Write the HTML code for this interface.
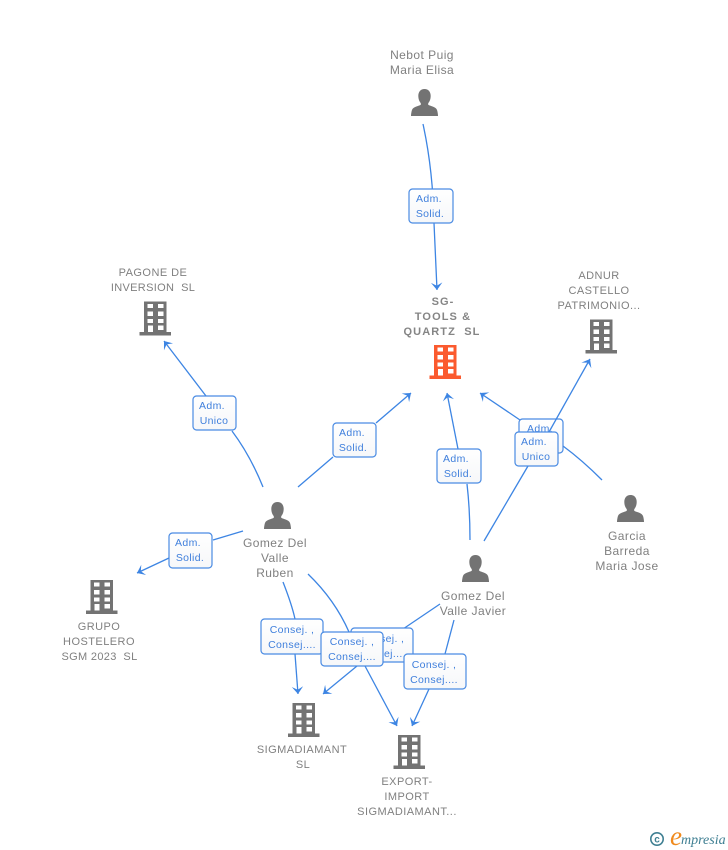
<!DOCTYPE html>
<html><head><meta charset="utf-8"><style>
html,body{margin:0;padding:0;background:#fff;width:728px;height:850px;overflow:hidden}
svg{display:block}
.n{font:12px "Liberation Sans",sans-serif;fill:#808080;text-anchor:middle;letter-spacing:.45px}
.c{font:11px "Liberation Sans",sans-serif;fill:#808080;text-anchor:middle;letter-spacing:.45px;white-space:pre}
.d{letter-spacing:.33px}
.s{font-weight:bold;font-size:11px;letter-spacing:1.1px;fill:#858585}
.t{font:10.5px "Liberation Sans",sans-serif;fill:#3f7fdc;text-anchor:middle;letter-spacing:.35px}
.e{fill:none;stroke:#3d85e3;stroke-width:1.3}
.b{fill:url(#g);stroke:#4a8be3;stroke-width:1.2}
</style></head><body>
<svg width="728" height="850" viewBox="0 0 728 850" xmlns="http://www.w3.org/2000/svg">
<defs>
<linearGradient id="g" x1="0" y1="0" x2="0" y2="1"><stop offset="0" stop-color="#fff"/><stop offset="1" stop-color="#f6f7f9"/></linearGradient>
<marker id="a" markerUnits="userSpaceOnUse" markerWidth="14" markerHeight="14" refX="9" refY="6" orient="auto" viewBox="0 0 14 12">
<path d="M9,6 L1.600,.3 L4.800,6 L1.600,11.700 Z" fill="#3d85e3"/>
</marker>
<g id="bld">
<path fill-rule="evenodd" d="M4.500,0H27V30.500H31.500V34H0V30.500H4.500ZM8,2.500V6.500H13.500V2.500ZM18.500,2.500V6.500H24V2.500ZM8,10V14.500H13.500V10ZM18.500,10V14.500H24V10ZM8,17.500V21.500H13.500V17.500ZM18.500,17.500V21.500H24V17.500ZM8.500,24V30.500H13.500V24ZM18.500,24V28.500H24V24Z"/>
</g>
<g id="per">
<path d="M13.500,0C9.500,0 7.300,3 7.300,7C7.300,10 8.300,12.500 9.800,14.200V15.800C8,17.300 2,17.300 .8,21.500C.3,23.500 0,25.500 0,27H27C27,25.500 26.700,23.500 26.200,21.500C25,17.300 19,17.300 17.200,15.800V14.200C18.700,12.500 19.700,10 19.700,7C19.700,3 17.500,0 13.500,0Z"/>
</g>
</defs>

<!-- connectors -->
<path class="e" d="M423,124Q433,170 434,223L437,290" marker-end="url(#a)"/>
<path class="e" d="M263,487Q250,455 232,431"/>
<path class="e" d="M206,396L164,341" marker-end="url(#a)"/>
<path class="e" d="M298,487L333,457M376,423L411,393" marker-end="url(#a)"/>
<path class="e" d="M470,540Q470,510 467,484"/>
<path class="e" d="M458,449L447,393" marker-end="url(#a)"/>
<path class="e" d="M484,541L528,466"/>
<path class="e" d="M602,480Q582,460 563,446"/>
<path class="e" d="M520,420L480,393" marker-end="url(#a)"/>
<path class="e" d="M243,531L213,540"/>
<path class="e" d="M169,558L137,573" marker-end="url(#a)"/>
<path class="e" d="M283,582Q292,605 295,619"/>
<path class="e" d="M295,654L298,694" marker-end="url(#a)"/>
<path class="e" d="M308,574Q335,600 349,632"/>
<path class="e" d="M365,666L397,726" marker-end="url(#a)"/>
<path class="e" d="M440,604L403,629"/>
<path class="e" d="M357,666L323,694" marker-end="url(#a)"/>
<path class="e" d="M454,620L445,654"/>
<path class="e" d="M429,689L412,726" marker-end="url(#a)"/>

<!-- relation boxes -->
<rect class="b" x="409" y="189" width="44" height="34" rx="3.5"/>
<text class="t" x="429" y="202">Adm.</text><text class="t" x="430" y="217">Solid.</text>
<rect class="b" x="193" y="396" width="43" height="34" rx="3.5"/>
<text class="t" x="212" y="409">Adm.</text><text class="t" x="214" y="424">Unico</text>
<rect class="b" x="333" y="423" width="43" height="34" rx="3.5"/>
<text class="t" x="352" y="436">Adm.</text><text class="t" x="353" y="451">Solid.</text>
<rect class="b" x="437" y="449" width="44" height="34" rx="3.5"/>
<text class="t" x="456" y="462">Adm.</text><text class="t" x="458" y="477">Solid.</text>
<rect class="b" x="519" y="419" width="44" height="34" rx="3.5"/>
<text class="t" x="540" y="432">Adm.</text>
<path class="e" d="M549,432L590,359" marker-end="url(#a)"/>
<rect class="b" x="515" y="432" width="43" height="34" rx="3.5"/>
<text class="t" x="534" y="445">Adm.</text><text class="t" x="536" y="460">Unico</text>
<rect class="b" x="169" y="533" width="43" height="35" rx="3.5"/>
<text class="t" x="188" y="546">Adm.</text><text class="t" x="190" y="561">Solid.</text>
<rect class="b" x="261" y="619" width="62" height="35" rx="3.5"/>
<text class="t" x="292" y="633">Consej. ,</text><text class="t" x="292" y="648">Consej....</text>
<rect class="b" x="351" y="628" width="62" height="34" rx="3.5"/>
<text class="t" x="382" y="642">Consej. ,</text><text class="t" x="382" y="657">Consej....</text>
<rect class="b" x="321" y="632" width="62" height="34" rx="3.5"/>
<text class="t" x="352" y="645">Consej. ,</text><text class="t" x="352" y="660">Consej....</text>
<rect class="b" x="404" y="654" width="62" height="35" rx="3.5"/>
<text class="t" x="434" y="668">Consej. ,</text><text class="t" x="434" y="683">Consej....</text>

<!-- icons -->
<use href="#per" x="411" y="89" fill="#737373"/>
<use href="#per" x="264" y="502" fill="#737373"/>
<use href="#per" x="462" y="555" fill="#737373"/>
<use href="#per" x="617" y="495" fill="#737373"/>
<use href="#bld" x="429.500" y="345" fill="#fb5a2e"/>
<use href="#bld" x="139.500" y="301.500" fill="#737373"/>
<use href="#bld" x="585.500" y="319.500" fill="#737373"/>
<use href="#bld" x="86" y="580" fill="#737373"/>
<use href="#bld" x="288" y="703" fill="#737373"/>
<use href="#bld" x="393.500" y="735" fill="#737373"/>

<!-- labels -->
<text class="n" x="422" y="59">Nebot Puig</text><text class="n" x="422" y="74">Maria Elisa</text>
<text class="c s" x="443" y="305">SG-</text><text class="c s" x="443" y="320">TOOLS &amp;</text><text class="c s" x="442" y="335">QUARTZ  SL</text>
<text class="c" x="153" y="276">PAGONE DE</text><text class="c d" x="153" y="291">INVERSION  SL</text>
<text class="c" x="599" y="279">ADNUR</text><text class="c" x="599" y="294">CASTELLO</text><text class="c" x="599" y="309">PATRIMONIO...</text>
<text class="n" x="275" y="547">Gomez Del</text><text class="n" x="275" y="562">Valle</text><text class="n" x="275" y="577">Ruben</text>
<text class="n" x="473" y="600">Gomez Del</text><text class="n" x="473" y="615">Valle Javier</text>
<text class="n" x="627" y="540">Garcia</text><text class="n" x="627" y="555">Barreda</text><text class="n" x="627" y="570">Maria Jose</text>
<text class="c" x="99" y="630">GRUPO</text><text class="c" x="99" y="645">HOSTELERO</text><text class="c d" x="99.500" y="660">SGM 2023  SL</text>
<text class="c" x="302" y="753">SIGMADIAMANT</text><text class="c" x="303" y="768">SL</text>
<text class="c" x="407" y="785">EXPORT-</text><text class="c" x="407" y="800">IMPORT</text><text class="c" x="407" y="815">SIGMADIAMANT...</text>

<!-- logo -->
<circle cx="657" cy="839" r="6.200" fill="none" stroke="#3f7f92" stroke-width="1.600"/>
<text x="657" y="842.500" font-family="Liberation Sans,sans-serif" font-size="10" font-weight="bold" fill="#3f7f92" text-anchor="middle">c</text>
<text x="670" y="845" font-family="Liberation Serif,serif" font-style="italic" font-size="27" fill="#f08a1d">e</text>
<text x="681" y="844" font-family="Liberation Serif,serif" font-style="italic" font-size="14" fill="#3f7f92">mpresia</text>
</svg>
</body></html>
